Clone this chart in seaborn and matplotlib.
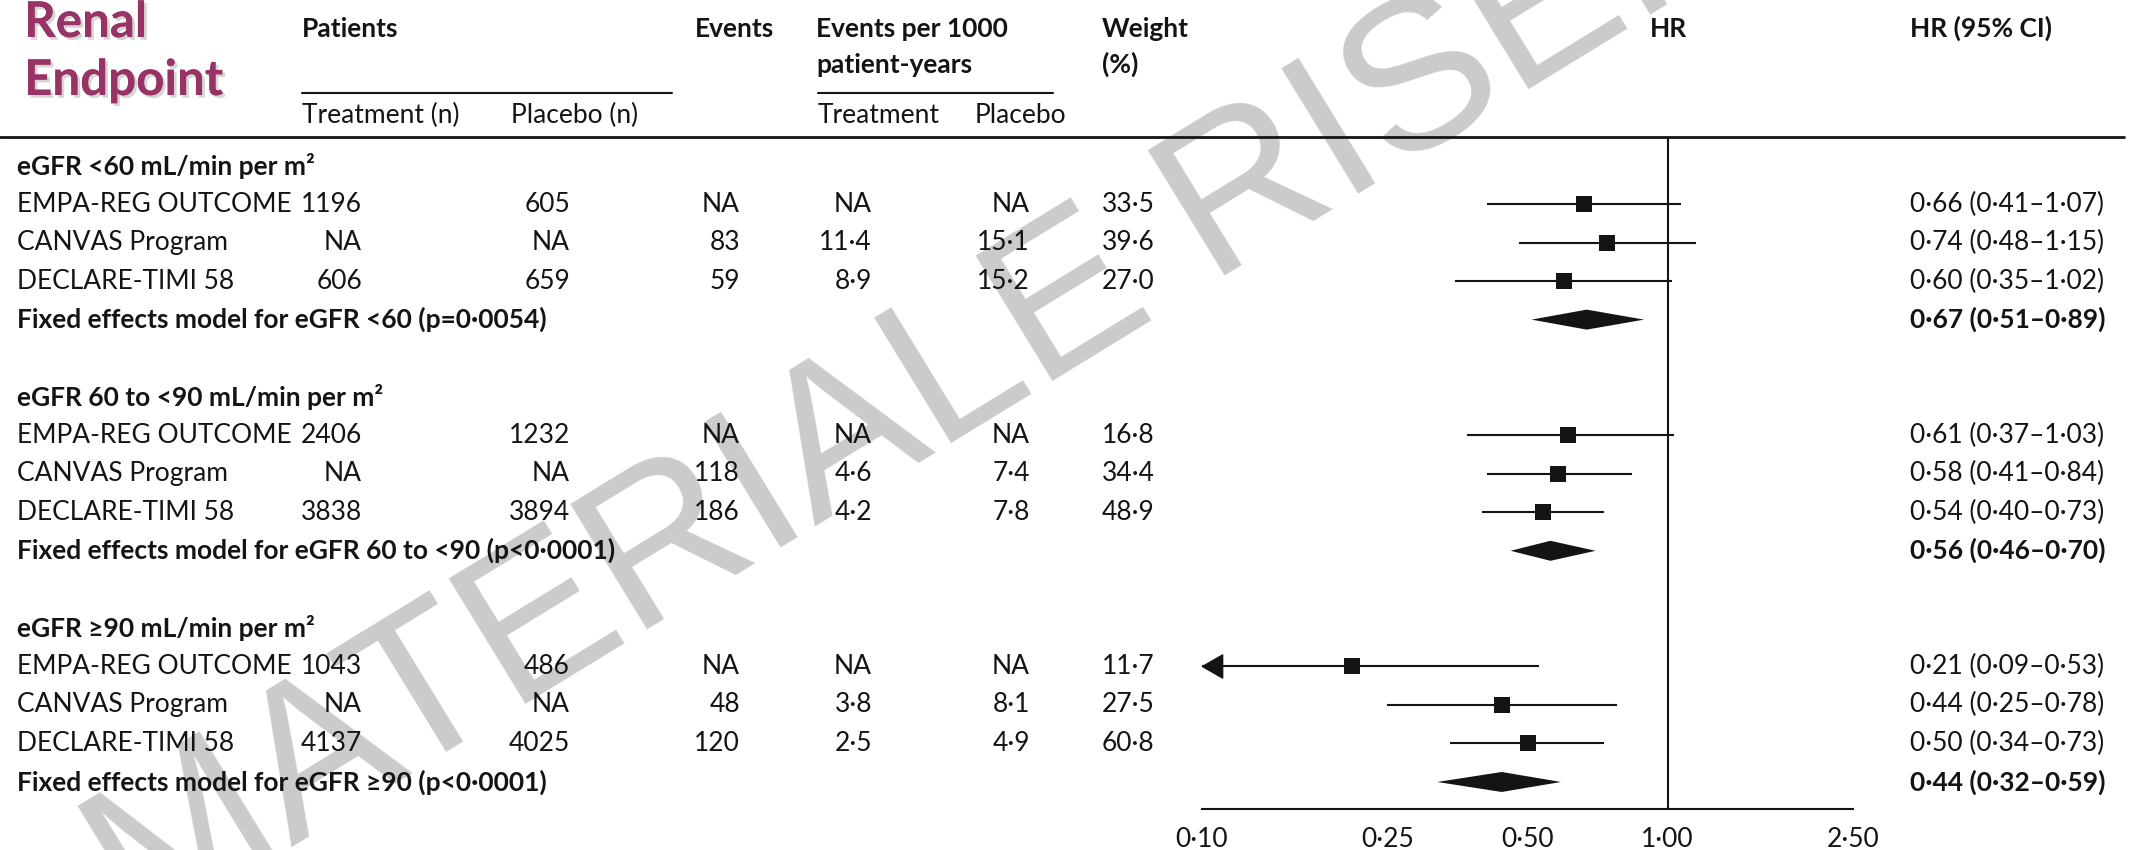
import matplotlib
matplotlib.use("Agg")
import matplotlib.pyplot as plt
import matplotlib.transforms as mtransforms
import matplotlib.patheffects as pe
from matplotlib.lines import Line2D
from matplotlib.ticker import NullLocator
import pandas as pd
import seaborn as sns

# ---------------- data ----------------
subgroups = ["eGFR <60 mL/min per m²",
             "eGFR 60 to <90 mL/min per m²",
             "eGFR ≥90 mL/min per m²"]
pooled_labels = ["Fixed effects model for eGFR <60 (p=0·0054)",
                 "Fixed effects model for eGFR 60 to <90 (p<0·0001)",
                 "Fixed effects model for eGFR ≥90 (p<0·0001)"]
trials = ["EMPA-REG OUTCOME", "CANVAS Program", "DECLARE-TIMI 58"]

treatment_n = [["1196", "NA", "606"], ["2406", "NA", "3838"], ["1043", "NA", "4137"]]
placebo_n = [["605", "NA", "659"], ["1232", "NA", "3894"], ["486", "NA", "4025"]]
events = [["NA", "83", "59"], ["NA", "118", "186"], ["NA", "48", "120"]]
rate_treatment = [["NA", "11·4", "8·9"], ["NA", "4·6", "4·2"], ["NA", "3·8", "2·5"]]
rate_placebo = [["NA", "15·1", "15·2"], ["NA", "7·4", "7·8"], ["NA", "8·1", "4·9"]]
weight_pct = [[33.5, 39.6, 27.0], [16.8, 34.4, 48.9], [11.7, 27.5, 60.8]]

hr = [[0.66, 0.74, 0.60], [0.61, 0.58, 0.54], [0.21, 0.44, 0.50]]
hr_low = [[0.41, 0.48, 0.35], [0.37, 0.41, 0.40], [0.09, 0.25, 0.34]]
hr_high = [[1.07, 1.15, 1.02], [1.03, 0.84, 0.73], [0.53, 0.78, 0.73]]

pooled_hr = [0.67, 0.56, 0.44]
pooled_low = [0.51, 0.46, 0.32]
pooled_high = [0.89, 0.70, 0.59]

axis_ticks = [0.10, 0.25, 0.50, 1.00, 2.50]
axis_tick_labels = ["0·10", "0·25", "0·50", "1·00", "2·50"]


def dot(v, nd=2):
    return f"{v:.{nd}f}".replace(".", "·")


def ci_text(h, lo, hi):
    return f"{dot(h)} ({dot(lo)}–{dot(hi)})"


# ---------------- style ----------------
sns.set_theme(style="white")
plt.rcParams["font.family"] = ["Lato", "DejaVu Sans"]
INK = "#141414"
TITLE = "#983465"
FS = 19

W, H = 2133, 850
fig = plt.figure(figsize=(W / 100, H / 100), dpi=100)
fig.patch.set_facecolor("white")


def fx(px):
    return px / W


def fy(py):
    return 1 - py / H


# forest panel: x from HR 0.10 to 2.50, rows laid out on a uniform grid
row0, row_step = 165.5, 38.53
ax_top, ax_bot = 137, 809
ax = fig.add_axes([fx(1202), fy(ax_bot), fx(1853) - fx(1202), (ax_bot - ax_top) / H])
ax.set_facecolor("none")
ax.set_xscale("log")
ax.set_xlim(0.10, 2.50)
ax.set_ylim((ax_bot - row0) / row_step, (ax_top - row0) / row_step)

# ---------------- watermark ----------------
fig.text(fx(140), fy(940), "MATERIALE RISERVATO", rotation=31.5, rotation_mode="anchor",
         ha="left", va="baseline", fontsize=154, color="#cbcbcb",
         family=["Liberation Sans", "DejaVu Sans"], zorder=-1)

# ---------------- forest marks ----------------
rows = []
for g in range(3):
    for i in range(3):
        rows.append(dict(row=6 * g + 1 + i, hr=hr[g][i], low=hr_low[g][i], high=hr_high[g][i]))
trial_df = pd.DataFrame(rows)

x_min = ax.get_xlim()[0]
for _, r in trial_df.iterrows():
    lo = max(r.low, x_min)
    ax.hlines(r.row, lo, r.high, color=INK, lw=1.5, zorder=3)
    if r.low < x_min:
        ax.plot([x_min], [r.row], marker=[(0, 0), (1, -0.575), (1, 0.575), (0, 0)],
                markersize=29, color=INK, clip_on=False, zorder=4)

sns.scatterplot(data=trial_df, x="hr", y="row", marker="s", s=135, color=INK,
                edgecolor=INK, linewidth=0, legend=False, ax=ax, zorder=5)

diamond_half = 10 / row_step
for g in range(3):
    y = 6 * g + 4
    ax.fill([pooled_low[g], pooled_hr[g], pooled_high[g], pooled_hr[g]],
            [y, y - diamond_half, y, y + diamond_half], color=INK, lw=0, zorder=5)

ax.axvline(1.0, color=INK, lw=1.5, zorder=2)

ax.set_xticks(axis_ticks, axis_tick_labels)
ax.xaxis.set_minor_locator(NullLocator())
ax.set_yticks([])
ax.set_xlabel("")
ax.set_ylabel("")
for side in ("top", "left", "right"):
    ax.spines[side].set_visible(False)
ax.spines["bottom"].set_color(INK)
ax.spines["bottom"].set_linewidth(1.5)
ax.tick_params(axis="x", direction="out", length=9, width=1.5, color=INK,
               labelsize=FS, labelcolor=INK, pad=4)

# ---------------- table text ----------------
row_tr = mtransforms.blended_transform_factory(fig.transFigure, ax.transData)


def cell(px, row, s, ha="left", bold=False):
    ax.text(fx(px), row, s, transform=row_tr, ha=ha, va="center", fontsize=FS,
            color=INK, fontweight="bold" if bold else "normal", zorder=6)


for g in range(3):
    base = 6 * g
    cell(17, base, subgroups[g], bold=True)
    for i in range(3):
        r = base + 1 + i
        cell(17, r, trials[i])
        cell(362, r, treatment_n[g][i], ha="right")
        cell(570, r, placebo_n[g][i], ha="right")
        cell(740, r, events[g][i], ha="right")
        cell(872, r, rate_treatment[g][i], ha="right")
        cell(1030, r, rate_placebo[g][i], ha="right")
        cell(1102, r, dot(weight_pct[g][i], 1))
        cell(1910, r, ci_text(hr[g][i], hr_low[g][i], hr_high[g][i]))
    cell(17, base + 4, pooled_labels[g], bold=True)
    cell(1910, base + 4, ci_text(pooled_hr[g], pooled_low[g], pooled_high[g]), bold=True)

# ---------------- header ----------------
shadow = [pe.withSimplePatchShadow(offset=(2, -2), shadow_rgbFace="#888888", alpha=0.35),
          pe.Normal()]
for txt, base in (("Renal", 37), ("Endpoint", 95)):
    fig.text(fx(24), fy(base), txt, ha="left", va="baseline", fontsize=35.5,
             fontweight="bold", color=TITLE, path_effects=shadow)


def head(px, base, s, ha="left", bold=True):
    fig.text(fx(px), fy(base), s, ha=ha, va="baseline", fontsize=FS, color=INK,
             fontweight="bold" if bold else "normal")


head(302, 37, "Patients")
head(695, 37, "Events")
head(816, 37, "Events per 1000")
head(816, 73, "patient-years")
head(1102, 37, "Weight")
head(1102, 73, "(%)")
head(1668, 37, "HR", ha="center")
head(1910, 37, "HR (95% CI)")
head(302, 123, "Treatment (n)", bold=False)
head(511, 123, "Placebo (n)", bold=False)
head(818, 123, "Treatment", bold=False)
head(975, 123, "Placebo", bold=False)

for x0, x1 in ((302, 672), (818, 1053)):
    fig.add_artist(Line2D([fx(x0), fx(x1)], [fy(93), fy(93)], transform=fig.transFigure,
                          color=INK, lw=1.5))
fig.add_artist(Line2D([0, fx(2124)], [fy(137), fy(137)], transform=fig.transFigure,
                      color=INK, lw=2.0))

fig.savefig("out.png", dpi=100, facecolor="white")
